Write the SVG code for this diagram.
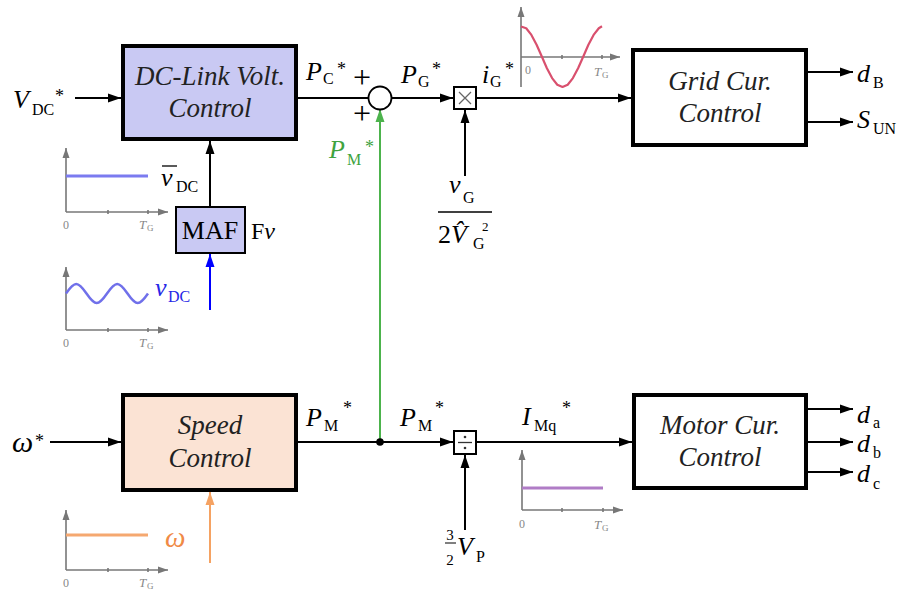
<svg xmlns="http://www.w3.org/2000/svg" width="903" height="592" viewBox="0 0 903 592" font-family="'Liberation Serif', 'Times New Roman', serif">
<defs>
<marker id="ak" markerUnits="userSpaceOnUse" markerWidth="14" markerHeight="10" refX="13" refY="5" orient="auto"><path d="M0,0.5 L13,5 L0,9.5 z" fill="#000"/></marker>
<marker id="ab" markerUnits="userSpaceOnUse" markerWidth="14" markerHeight="10" refX="13" refY="5" orient="auto"><path d="M0,0.5 L13,5 L0,9.5 z" fill="#0000ff"/></marker>
<marker id="ag" markerUnits="userSpaceOnUse" markerWidth="14" markerHeight="10" refX="13" refY="5" orient="auto"><path d="M0,0.5 L13,5 L0,9.5 z" fill="#4cb34c"/></marker>
<marker id="ao" markerUnits="userSpaceOnUse" markerWidth="14" markerHeight="10" refX="13" refY="5" orient="auto"><path d="M0,0.5 L13,5 L0,9.5 z" fill="#f5a262"/></marker>
<marker id="ay" markerUnits="userSpaceOnUse" markerWidth="11" markerHeight="8" refX="10" refY="4" orient="auto"><path d="M0,0.5 L10,4 L0,7.5 z" fill="#777"/></marker>
</defs>
<style>
text{font-family:'Liberation Serif','Times New Roman',serif;fill:#000}
.blk{font-size:27px;font-style:italic;text-anchor:middle;fill:#222}
.v{font-size:26px;font-style:italic}
.s{font-size:16px}
.st{font-size:18px}
.pl{font-size:26px}
.ax{stroke:#777;stroke-width:1.6;fill:none}
.axa{stroke:#777;stroke-width:1.6;fill:none;marker-end:url(#ay)}
.g0{font-size:12px;fill:#888;text-anchor:middle}
.gt{font-size:13px;font-style:italic;fill:#888}
.gs{font-size:9px;fill:#888}
.c{stroke:#000;stroke-width:2;fill:none}
.ca{stroke:#000;stroke-width:2;fill:none;marker-end:url(#ak)}
</style>

<g id="connectors">
<line class="ca" x1="75" y1="98" x2="121" y2="98"/>
<line class="c" x1="298" y1="98" x2="369" y2="98"/>
<line class="ca" x1="392" y1="98" x2="453" y2="98"/>
<line class="ca" x1="477" y1="98" x2="631" y2="98"/>
<line class="ca" x1="808" y1="72" x2="853" y2="72"/>
<line class="ca" x1="808" y1="122" x2="853" y2="122"/>
<line class="ca" x1="465" y1="176" x2="465" y2="110"/>
<line class="ca" x1="210" y1="206" x2="210" y2="141"/>
<line x1="210" y1="310" x2="210" y2="254" stroke="#0000ff" stroke-width="2" marker-end="url(#ab)"/>
<line x1="380" y1="442" x2="380" y2="109" stroke="#4cb34c" stroke-width="2" marker-end="url(#ag)"/>
<line class="ca" x1="50" y1="442" x2="121" y2="442"/>
<line class="ca" x1="298" y1="442" x2="453" y2="442"/>
<circle cx="380" cy="442" r="3.8" fill="#000"/>
<line class="ca" x1="477" y1="442" x2="632" y2="442"/>
<line class="ca" x1="465" y1="530" x2="465" y2="455"/>
<line class="ca" x1="808" y1="409" x2="853" y2="409"/>
<line class="ca" x1="808" y1="442" x2="853" y2="442"/>
<line class="ca" x1="808" y1="472" x2="853" y2="472"/>
<line x1="210" y1="563" x2="210" y2="492" stroke="#f5a262" stroke-width="2" marker-end="url(#ao)"/>
</g>

<g id="dclink">
<rect x="123" y="46" width="173" height="93" fill="#c9c9f3" stroke="#000" stroke-width="4"/>
<text class="blk" x="210" y="85">DC-Link Volt.</text>
<text class="blk" x="210" y="117">Control</text>
</g>

<g id="sum">
<circle cx="380" cy="98" r="11.5" fill="#fff" stroke="#000" stroke-width="1.8"/>
<text class="pl" x="362" y="88" text-anchor="middle" style="font-size:32px">+</text>
<text class="pl" x="362" y="124" text-anchor="middle" style="font-size:32px">+</text>
</g>

<g id="mult">
<rect x="454" y="87" width="22" height="22" fill="#fff" stroke="#000" stroke-width="2"/>
<path d="M459,92 L471,104 M471,92 L459,104" stroke="#666" stroke-width="1.3"/>
</g>

<g id="grid">
<rect x="633" y="50" width="173" height="95" fill="#fff" stroke="#000" stroke-width="4"/>
<text class="blk" x="720" y="90">Grid Cur.</text>
<text class="blk" x="720" y="122">Control</text>
</g>

<g id="maf">
<rect x="176" y="207" width="69" height="46" fill="#c9c9f3" stroke="#000" stroke-width="2"/>
<text x="210" y="239" text-anchor="middle" style="font-size:26px">MAF</text>
</g>

<g id="speed">
<rect x="123" y="395" width="173" height="95" fill="#fbe3d4" stroke="#000" stroke-width="4"/>
<text class="blk" x="210" y="434">Speed</text>
<text class="blk" x="210" y="467">Control</text>
</g>

<g id="div">
<rect x="454" y="431" width="22" height="23" fill="#fff" stroke="#000" stroke-width="2"/>
<line x1="458" y1="442.5" x2="472" y2="442.5" stroke="#333" stroke-width="1.3"/>
<circle cx="465" cy="437" r="1.3" fill="#333"/>
<circle cx="465" cy="448" r="1.3" fill="#333"/>
</g>

<g id="motor">
<rect x="634" y="395" width="172" height="93" fill="#fff" stroke="#000" stroke-width="4"/>
<text class="blk" x="720" y="434">Motor Cur.</text>
<text class="blk" x="720" y="466">Control</text>
</g>

<g id="labels">
<text class="v" x="13" y="108">V</text><text class="s" x="32" y="115">DC</text><text class="st" x="55" y="102">*</text>
<text class="v" x="306" y="80">P</text><text class="s" x="323" y="84">C</text><text class="st" x="337" y="75">*</text>
<text class="v" x="401" y="83">P</text><text class="s" x="418" y="87">G</text><text class="st" x="432" y="75">*</text>
<text class="v" x="482" y="83">i</text><text class="s" x="490" y="87">G</text><text class="st" x="505" y="75">*</text>
<text class="v" x="329" y="158" style="fill:#3fa33f">P</text><text class="s" x="347" y="165" style="fill:#3fa33f">M</text><text class="st" x="365" y="153" style="fill:#3fa33f">*</text>
<text class="v" x="449" y="193">v</text><text class="s" x="463" y="203">G</text>
<line x1="438" y1="212" x2="492" y2="212" stroke="#000" stroke-width="1.3"/>
<text class="pl" x="438" y="243">2</text><text class="v" x="451" y="243">V̂</text><text class="s" x="473" y="249">G</text><text style="font-size:13px" x="482" y="231">2</text>
<text class="v" x="857" y="82">d</text><text class="s" x="873" y="88">B</text>
<text class="v" x="857" y="128">S</text><text class="s" x="873" y="134">UN</text>
<text class="v" x="161" y="186">v</text><line x1="162" y1="166" x2="177" y2="166" stroke="#000" stroke-width="1.3"/><text class="s" x="176" y="192">DC</text>
<text style="font-size:24px" x="251" y="239">F<tspan font-style="italic">v</tspan></text>
<text class="v" x="155" y="296" style="fill:#2626e6">v</text><text class="s" x="168" y="302" style="fill:#2626e6">DC</text>
<text class="v" x="12" y="452" style="font-size:30px">ω</text><text class="st" x="35" y="447">*</text>
<text class="v" x="306" y="426">P</text><text class="s" x="324" y="431">M</text><text class="st" x="343" y="414">*</text>
<text class="v" x="400" y="426">P</text><text class="s" x="418" y="431">M</text><text class="st" x="435" y="414">*</text>
<text class="v" x="522" y="425">I</text><text class="s" x="534" y="431">Mq</text><text class="st" x="562" y="414">*</text>
<text x="450" y="540" text-anchor="middle" style="font-size:15px">3</text>
<line x1="445" y1="543" x2="456" y2="543" stroke="#000" stroke-width="1"/>
<text x="450" y="565" text-anchor="middle" style="font-size:15px">2</text>
<text class="v" x="457" y="555">V</text><text class="s" x="476" y="562">P</text>
<text class="v" x="857" y="423">d</text><text class="s" x="873" y="428">a</text>
<text class="v" x="857" y="452">d</text><text class="s" x="873" y="458">b</text>
<text class="v" x="857" y="482">d</text><text class="s" x="873" y="489">c</text>
<text class="v" x="165" y="547" style="fill:#f08a46;font-size:29px">ω</text>
</g>

<g id="plot-vdcbar">
<line class="axa" x1="66" y1="212" x2="66" y2="148"/>
<line class="axa" x1="66" y1="212" x2="168" y2="212"/>
<path class="ax" d="M108,210 V214 M148,210 V214"/>
<line x1="66" y1="176" x2="148" y2="176" stroke="#7b7bf0" stroke-width="3"/>
<text class="g0" x="66" y="229">0</text><text class="gt" x="139" y="229">T</text><text class="gs" x="147" y="231">G</text>
</g>

<g id="plot-vdc">
<line class="axa" x1="66" y1="330" x2="66" y2="267"/>
<line class="axa" x1="66" y1="330" x2="168" y2="330"/>
<path class="ax" d="M108,328 V332 M148,328 V332"/>
<path d="M66,293.5 C74.7,280.8 77.8,280.8 86.5,293.5 C95.2,306.2 98.3,306.2 107,293.5 C115.7,280.8 118.8,280.8 127.5,293.5 C136.2,306.2 139.3,306.2 148,293.5" fill="none" stroke="#7070ea" stroke-width="2.5"/>
<text class="g0" x="66" y="347">0</text><text class="gt" x="139" y="347">T</text><text class="gs" x="147" y="349">G</text>
</g>

<g id="plot-omega">
<line class="axa" x1="66" y1="570" x2="66" y2="510"/>
<line class="axa" x1="66" y1="570" x2="168" y2="570"/>
<path class="ax" d="M108,568 V572 M148,568 V572"/>
<line x1="66" y1="535" x2="148" y2="535" stroke="#f5a870" stroke-width="3"/>
<text class="g0" x="66" y="587">0</text><text class="gt" x="139" y="587">T</text><text class="gs" x="147" y="589">G</text>
</g>

<g id="plot-imq">
<line class="axa" x1="522" y1="510" x2="522" y2="450"/>
<line class="axa" x1="522" y1="510" x2="623" y2="510"/>
<path class="ax" d="M562,508 V512 M603,508 V512"/>
<line x1="522" y1="488" x2="603" y2="488" stroke="#b07cc6" stroke-width="3"/>
<text class="g0" x="522" y="528">0</text><text class="gt" x="594" y="529">T</text><text class="gs" x="602" y="531">G</text>
</g>

<g id="plot-ig">
<line class="axa" x1="521" y1="87" x2="521" y2="7"/>
<line class="axa" x1="521" y1="57" x2="620" y2="57"/>
<path class="ax" d="M562,55 V59 M602,55 V59"/>
<polyline fill="none" stroke="#d9506e" stroke-width="2.2" stroke-linejoin="round" points="521,26.5 526.2,28.3 531.4,34.9 536.6,44.8 541.8,56.5 546.9,68.2 552.1,78.1 557.3,84.7 562.5,87 567.7,84.7 572.9,78.1 578.1,68.2 583.3,56.5 588.4,44.8 593.6,34.9 598.8,28.3 602,26.3"/>
<text class="g0" x="528" y="74">0</text><text class="gt" x="594" y="76">T</text><text class="gs" x="602" y="78">G</text>
</g>
</svg>
